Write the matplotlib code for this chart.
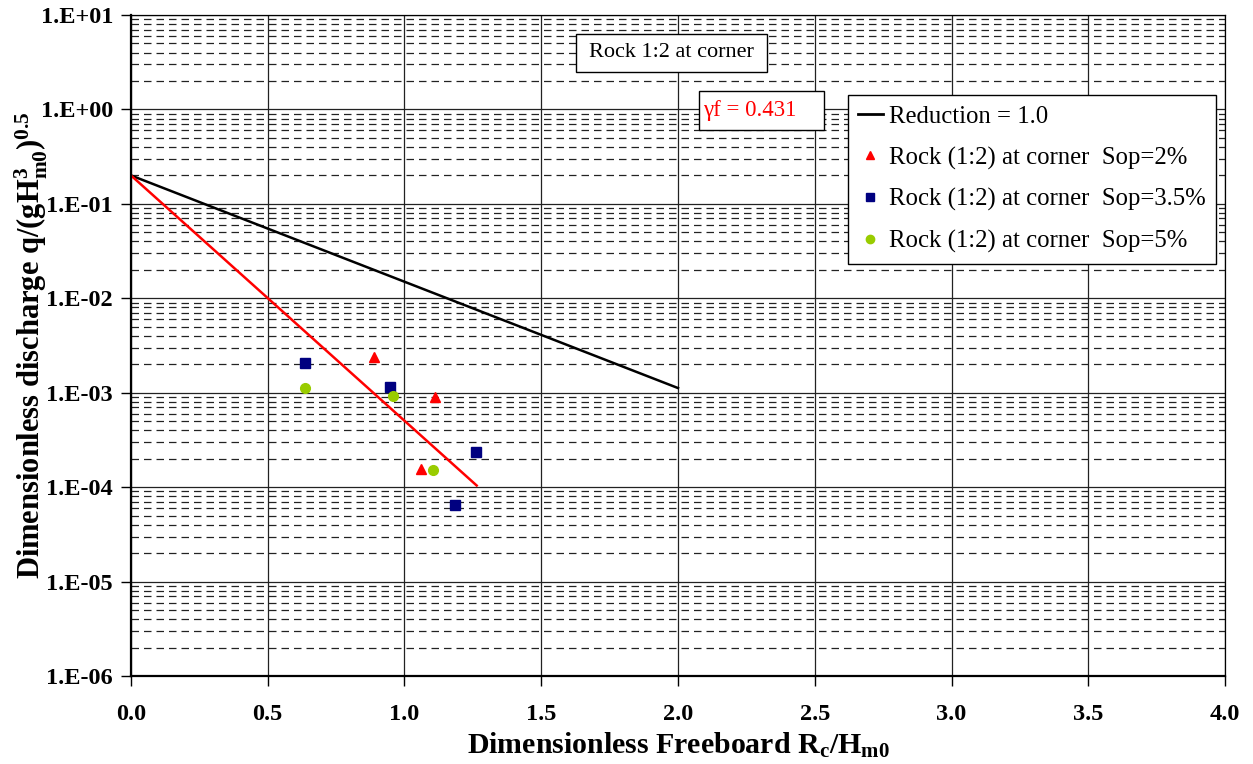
import matplotlib
matplotlib.use("Agg")
import matplotlib.pyplot as plt
from matplotlib.lines import Line2D
from matplotlib.patches import Rectangle
from matplotlib.ticker import LogLocator, NullFormatter, FixedLocator

# --- data ---
# Reduction = 1.0 reference line (straight on log scale, two end points)
ref_x = [0.0, 2.0]
ref_y = [0.2, 1.12e-3]

# fitted line, gamma_f = 0.431
fit_x = [0.0, 1.264]
fit_y = [0.2, 1.04e-4]

# Rock (1:2) at corner, Sop = 2 %
sop2_x = [0.89, 1.11, 1.06]
sop2_y = [2.38e-3, 8.9e-4, 1.57e-4]

# Sop = 3.5 %
sop35_x = [0.636, 0.947, 1.261, 1.185]
sop35_y = [2.07e-3, 1.16e-3, 2.34e-4, 6.4e-5]

# Sop = 5 %
sop5_x = [0.637, 0.958, 1.104]
sop5_y = [1.13e-3, 9.2e-4, 1.50e-4]

y_ticks = [1e-6, 1e-5, 1e-4, 1e-3, 1e-2, 1e-1, 1e0, 1e1]
y_tick_labels = ["1.E-06", "1.E-05", "1.E-04", "1.E-03",
                 "1.E-02", "1.E-01", "1.E+00", "1.E+01"]
x_ticks = [0.0, 0.5, 1.0, 1.5, 2.0, 2.5, 3.0, 3.5, 4.0]


def main():
    plt.rcParams["font.family"] = ["Liberation Serif", "DejaVu Serif"]
    plt.rcParams["mathtext.fontset"] = "custom"
    plt.rcParams["mathtext.rm"] = "Liberation Serif:bold"
    plt.rcParams["mathtext.bf"] = "Liberation Serif:bold"
    plt.rcParams["mathtext.it"] = "Liberation Serif:bold"

    fig = plt.figure(figsize=(12.53, 7.64), dpi=100)
    ax = fig.add_axes([0.1045, 0.1152, 0.8732, 0.8652])

    ax.set_yscale("log")
    ax.set_xlim(0, 4)
    ax.set_ylim(1e-6, 1e1)

    # grid: solid at decades and every 0.5, dashed at minor decades
    ax.yaxis.set_major_locator(FixedLocator(y_ticks))
    ax.yaxis.set_minor_locator(LogLocator(base=10, subs=range(2, 10)))
    ax.yaxis.set_minor_formatter(NullFormatter())
    ax.set_xticks(x_ticks)
    ax.set_xticklabels([f"{v:.1f}" for v in x_ticks])
    ax.set_yticklabels(y_tick_labels)

    ax.grid(True, which="major", color="#222222", lw=0.9)
    ax.grid(True, which="minor", axis="y", color="#222222", lw=0.9,
            linestyle=(0, (6, 4)))
    ax.set_axisbelow(True)

    ax.tick_params(which="major", direction="out", length=7, width=1,
                   labelsize=17.5)
    ax.tick_params(axis="x", pad=13)
    ax.tick_params(axis="y", pad=6)
    ax.tick_params(which="minor", length=0)
    for lab in ax.get_xticklabels() + ax.get_yticklabels():
        lab.set_fontweight("bold")

    for side in ["left", "bottom"]:
        ax.spines[side].set_linewidth(1.6)
    for side in ["top", "right"]:
        ax.spines[side].set_linewidth(0.9)

    # lines
    ax.plot(ref_x, ref_y, color="black", lw=1.8)
    ax.plot(fit_x, fit_y, color="#ff0000", lw=1.8)

    # measurements
    ax.plot(sop2_x, sop2_y, "^", color="#ff0000", ms=7, ls="none")
    ax.plot(sop35_x, sop35_y, "s", color="#000080", ms=7, ls="none")
    ax.plot(sop5_x, sop5_y, "o", color="#99cc00", ms=7, ls="none")

    ax.set_xlabel(r"Dimensionless Freeboard R$_{\rm c}$/H$_{\rm m0}$",
                  fontsize=21.5, fontweight="bold", labelpad=4)
    ax.set_ylabel(r"Dimensionless discharge q/(gH$_{\rm m0}^{\rm 3}$)$^{\rm 0.5}$",
                  fontsize=22, fontweight="bold")
    ax.yaxis.set_label_coords(-0.074, 0.5)

    # annotation boxes
    ax.add_patch(Rectangle((0.4068, 0.9138), 0.1746, 0.0575,
                           transform=ax.transAxes, fc="white", ec="black",
                           lw=1, zorder=4))
    ax.text(0.4941, 0.9425, "Rock 1:2 at corner", transform=ax.transAxes,
            ha="center", va="center", fontsize=16, zorder=5)
    ax.add_patch(Rectangle((0.519, 0.826), 0.1143, 0.059,
                           transform=ax.transAxes, fc="white", ec="black",
                           lw=1, zorder=4))
    ax.text(0.5225, 0.856, "γf = 0.431", transform=ax.transAxes,
            ha="left", va="center", fontsize=16.5, color="#ff0000", zorder=5)

    handles = [
        Line2D([], [], color="black", lw=2),
        Line2D([], [], marker="^", color="#ff0000", ls="none", ms=6),
        Line2D([], [], marker="s", color="#000080", ls="none", ms=6),
        Line2D([], [], marker="o", color="#99cc00", ls="none", ms=6),
    ]
    labels = [
        "Reduction = 1.0",
        "Rock (1:2) at corner  Sop=2%",
        "Rock (1:2) at corner  Sop=3.5%",
        "Rock (1:2) at corner  Sop=5%",
    ]
    leg = ax.legend(handles, labels, loc="upper left",
                    bbox_to_anchor=(0.655, 0.879), borderaxespad=0,
                    fontsize=17.8, frameon=True, fancybox=False,
                    framealpha=1, edgecolor="black", handlelength=1.0,
                    handletextpad=0.25, labelspacing=0.76, borderpad=0.42)
    leg.get_frame().set_linewidth(1)

    plt.savefig("out.png", dpi=100)
    plt.close()


if __name__ == "__main__":
    main()
